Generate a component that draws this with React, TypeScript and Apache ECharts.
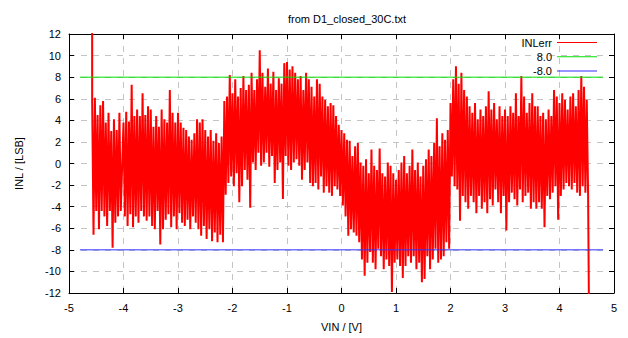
import React, { useEffect, useRef } from "react";
import * as echarts from "echarts";

// ---- data ----
const TITLE = "from D1_closed_30C.txt";
const X_NAME = "VIN / [V]";
const Y_NAME = "INL / [LSB]";
const SERIES_NAMES = ["INLerr", "8.0", "-8.0"];

const X_MIN = -5;
const X_MAX = 5;
const Y_MIN = -12;
const Y_MAX = 12;

// sample step (V) of the envelope readings
const STEP = 0.05;

// first and last samples of the INL record (spikes off the plot)
const INL_FIRST: [number, number] = [-4.575, 13];
const INL_LAST: [number, number] = [4.54, -13];

// upper / lower envelope of the INL noise band, read every 0.05 V
const HI_M457 = [5.8, 6.1, 4.5, 5.4, 5.8, 3.8, 4.7, 3.0, 4.1, 3.1, 4.7];
const LO_M457 = [-6.6, -4.4, -6.1, -4.4, -4.9, -5.8, -4.4, -7.8, -5.5, -4.9, -4.4];

const HI_M400 = [3.8, 4.8, 3.9, 7.3, 4.4, 5.0, 4.4, 6.5, 4.5, 5.3, 5.0, 3.4, 4.4, 3.4, 5.0, 4.1, 3.8, 6.8, 4.7, 3.8];
const LO_M400 = [-4.9, -5.8, -4.7, -5.9, -4.9, -5.5, -4.4, -4.9, -5.3, -4.9, -5.8, -6.1, -4.4, -7.5, -6.1, -5.2, -4.7, -5.9, -4.9, -6.1];

const HI_M300 = [4.7, 3.8, 3.3, 3.1, 2.5, 2.2, 2.8, 4.1, 3.8, 4.1, 3.1, 2.5, 3.1, 2.1, 2.8, 1.9, 2.5, 5.8, 6.2, 8.2];
const LO_M300 = [-4.6, -5.5, -5.8, -5.2, -6.1, -4.9, -5.5, -6.1, -6.7, -5.8, -7.0, -6.1, -7.2, -6.4, -7.3, -6.6, -7.3, -2.9, -1.8, -1.2];

const HI_M200 = [6.5, 7.8, 6.2, 7.0, 8.1, 6.8, 7.3, 8.4, 6.8, 7.8, 10.5, 8.4, 7.1, 8.8, 7.4, 8.5, 6.8, 7.9, 7.4, 9.3];
const LO_M200 = [-2.1, -0.9, -3.6, -2.1, -0.6, -1.5, -4.1, 0.1, -0.6, 1.0, -0.2, 0.1, 1.0, -0.3, 0.7, -1.8, -0.6, 0.1, -3.3, 0.7];

const HI_M100 = [9.4, 8.7, 9.0, 8.4, 7.8, 8.1, 6.8, 8.4, 7.8, 7.1, 6.2, 7.8, 7.4, 6.2, 5.9, 5.3, 5.6, 5.4, 4.4, 3.6];
const LO_M100 = [-0.2, -0.6, 0.1, 0.4, -0.2, -1.5, -0.6, 0.1, -1.8, -2.1, -1.8, -2.4, -1.2, -2.7, -2.1, -2.7, -3.0, -2.1, -2.4, -3.0];

const HI_P000 = [3.1, 2.8, 2.2, 2.1, 0.7, 1.6, 1.9, 0.1, -0.2, 0.4, -0.9, 1.3, -0.2, -0.6, 1.4, -0.9, -1.2, 0.1, -0.2, -0.9];
const LO_P000 = [-3.9, -4.9, -6.7, -6.1, -6.4, -6.7, -7.3, -8.9, -10.4, -9.2, -8.2, -9.2, -9.8, -7.9, -8.6, -9.8, -8.9, -9.5, -11.9, -9.2];

const HI_P100 = [-1.5, -0.6, 0.1, 0.7, -0.9, -0.2, 1.3, -0.6, 0.1, -1.2, -0.2, 0.4, 1.3, 0.7, 1.9, 4.2, 1.6, 2.8, 2.2, 3.1];
const LO_P100 = [-8.9, -9.5, -10.6, -9.5, -8.6, -9.2, -8.6, -9.8, -9.2, -11.0, -10.7, -8.6, -9.8, -8.9, -7.9, -9.2, -8.9, -8.6, -7.3, -7.9];

const HI_P200 = [5.6, 7.8, 9.0, 7.4, 8.4, 6.8, 6.2, 5.3, 4.7, 5.6, 4.1, 5.0, 4.4, 5.3, 6.7, 5.0, 5.6, 4.1, 5.3, 4.4];
const LO_P200 = [-1.2, -2.1, -2.4, -5.3, -3.0, -3.6, -4.2, -3.0, -3.6, -4.6, -3.0, -4.2, -3.6, -4.6, -3.3, -3.9, -2.4, -3.6, -4.6, -3.0];

const HI_P300 = [5.0, 4.4, 5.3, 4.7, 6.5, 4.4, 8.1, 6.2, 4.7, 5.6, 6.5, 5.3, 5.3, 4.4, 4.7, 4.1, 5.0, 4.4, 6.8, 6.2];
const LO_P300 = [-6.2, -3.6, -2.7, -3.3, -3.9, -2.4, -3.6, -3.0, -2.7, -4.2, -3.6, -4.2, -3.6, -4.2, -5.9, -3.0, -3.3, -2.7, -2.1, -5.2];

const HI_P400 = [5.6, 6.5, 5.9, 5.0, 6.2, 6.5, 5.3, 6.8, 8.1, 7.1, 5.9];
const LO_P400 = [-3.0, -2.4, -1.8, -2.1, -2.4, -1.8, -2.7, -3.0, -2.1, -2.7, -3.0];

// reference lines
const LIMIT_HIGH = 8.0;
const LIMIT_LOW = -8.0;
const LIMIT_X = [-4.8, 4.8];

const SEGMENTS = [
  { start: -4.575, hi: HI_M457, lo: LO_M457 },
  { start: -4.0, hi: HI_M400, lo: LO_M400 },
  { start: -3.0, hi: HI_M300, lo: LO_M300 },
  { start: -2.0, hi: HI_M200, lo: LO_M200 },
  { start: -1.0, hi: HI_M100, lo: LO_M100 },
  { start: 0.0, hi: HI_P000, lo: LO_P000 },
  { start: 1.0, hi: HI_P100, lo: LO_P100 },
  { start: 2.0, hi: HI_P200, lo: LO_P200 },
  { start: 3.0, hi: HI_P300, lo: LO_P300 },
  { start: 4.0, hi: HI_P400, lo: LO_P400 },
];

function buildInl(): [number, number][] {
  const pts: [number, number][] = [INL_FIRST];
  for (const seg of SEGMENTS) {
    seg.hi.forEach((h, i) => {
      const x = seg.start + i * STEP;
      pts.push([x, h]);
      pts.push([x + STEP / 2, seg.lo[i]]);
    });
  }
  pts.push(INL_LAST);
  return pts;
}

const FONT = "'Liberation Sans', Arial, sans-serif";

export default function App() {
  const ref = useRef<HTMLDivElement>(null);
  useEffect(() => {
    if (!ref.current) return;
    const chart = echarts.init(ref.current, undefined, { renderer: "svg" });
    const axisLine = { show: true, onZero: false, lineStyle: { color: "#000", width: 1 } };
    const tick = { show: true, inside: true, length: 5, lineStyle: { color: "#000", width: 1 } };
    const grid = { show: true, lineStyle: { color: "#c4c4c4", width: 1, type: [6, 6] as any } };
    const lbl = { color: "#000", fontSize: 11, fontFamily: FONT };
    chart.setOption({
      animation: false,
      backgroundColor: "#fff",
      title: {
        text: TITLE,
        left: 342,
        textAlign: "center",
        top: 8,
        textStyle: { color: "#000", fontSize: 11, fontWeight: "normal", fontFamily: FONT },
      },
      legend: {
        data: SERIES_NAMES,
        orient: "vertical",
        align: "right",
        right: 31,
        top: 37,
        padding: 0,
        itemWidth: 40,
        itemHeight: 1,
        itemGap: 3.2,
        icon: "rect",
        selectedMode: false,
        textStyle: { ...lbl },
      },
      grid: { left: 69, right: 14, top: 34, bottom: 45 },
      xAxis: [
        {
          type: "value",
          min: X_MIN,
          max: X_MAX,
          interval: 1,
          position: "bottom",
          axisLine,
          axisTick: tick,
          axisLabel: { ...lbl, margin: 9 },
          splitLine: grid,
          name: X_NAME,
          nameLocation: "middle",
          nameGap: 28,
          nameTextStyle: { ...lbl },
        },
        {
          type: "value",
          min: X_MIN,
          max: X_MAX,
          interval: 1,
          position: "top",
          axisLine,
          axisTick: tick,
          axisLabel: { show: false },
          splitLine: { show: false },
        },
      ],
      yAxis: [
        {
          type: "value",
          min: Y_MIN,
          max: Y_MAX,
          interval: 2,
          position: "left",
          axisLine,
          axisTick: tick,
          axisLabel: { ...lbl, margin: 8 },
          splitLine: grid,
          name: Y_NAME,
          nameLocation: "middle",
          nameGap: 45,
          nameTextStyle: { ...lbl },
        },
        {
          type: "value",
          min: Y_MIN,
          max: Y_MAX,
          interval: 2,
          position: "right",
          axisLine,
          axisTick: tick,
          axisLabel: { show: false },
          splitLine: { show: false },
        },
      ],
      series: [
        {
          name: SERIES_NAMES[0],
          type: "line",
          data: buildInl(),
          color: "#ff0000",
          showSymbol: false,
          symbol: "none",
          lineStyle: { color: "#ff0000", width: 2, join: "bevel" },
          clip: true,
          z: 2,
        },
        {
          name: SERIES_NAMES[1],
          type: "line",
          data: LIMIT_X.map((x) => [x, LIMIT_HIGH]),
          color: "#00e000",
          showSymbol: false,
          symbol: "none",
          lineStyle: { color: "#00e000", width: 1 },
          z: 3,
        },
        {
          name: SERIES_NAMES[2],
          type: "line",
          data: LIMIT_X.map((x) => [x, LIMIT_LOW]),
          color: "#3030ff",
          showSymbol: false,
          symbol: "none",
          lineStyle: { color: "#3030ff", width: 1 },
          z: 3,
        },
      ],
    });
    return () => chart.dispose();
  }, []);
  return (
    <div
      ref={ref}
      style={{ position: "fixed", left: 0, top: 0, width: 628, height: 338, background: "#fff" }}
    />
  );
}
